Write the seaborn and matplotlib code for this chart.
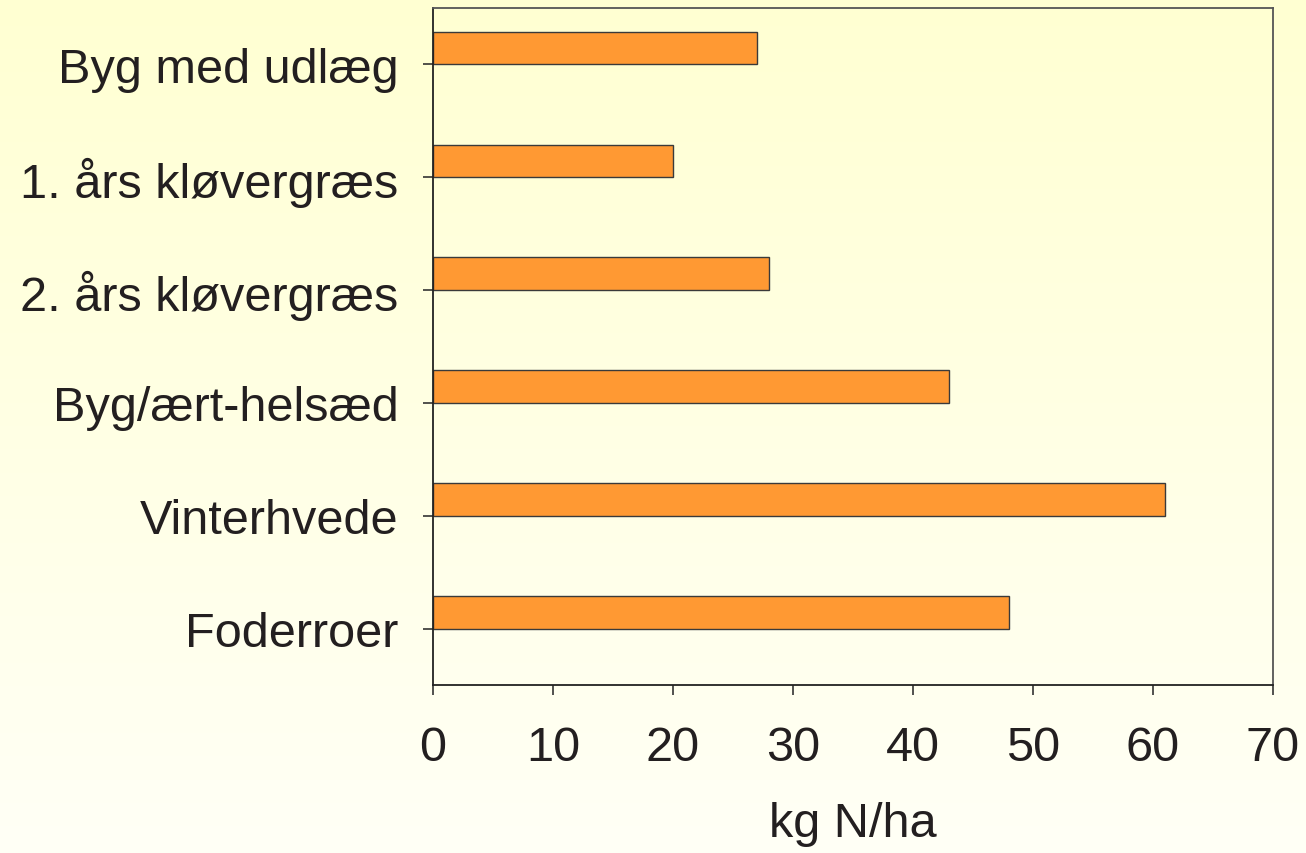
import numpy as np
import pandas as pd
import matplotlib
matplotlib.use("Agg")
import matplotlib.pyplot as plt
import seaborn as sns

# data
crops = ["Byg med udlæg", "1. års kløvergræs", "2. års kløvergræs",
         "Byg/ært-helsæd", "Vinterhvede", "Foderroer"]
n_values = [27, 20, 28, 43, 61, 48]
x_ticks = [0, 10, 20, 30, 40, 50, 60, 70]

df = pd.DataFrame({"crop": crops, "kg_n": n_values})

sns.set_style("white")
plt.rcParams["font.family"] = ["Liberation Sans", "DejaVu Sans"]
text_color = "#231f20"

fig = plt.figure(figsize=(13.06, 8.54), dpi=100)

# yellow gradient background behind everything
bg = fig.add_axes([0, 0, 1, 1], zorder=0)
grad = np.linspace(0, 1, 256).reshape(-1, 1)
bg.imshow(grad, aspect="auto", extent=[0, 1, 0, 1],
          cmap=matplotlib.colors.LinearSegmentedColormap.from_list(
              "bgyl", ["#fffff6", "#ffffd2"]), origin="lower")
bg.axis("off")

ax = fig.add_axes([433 / 1306, 1 - 686 / 854, 840 / 1306, 677 / 854], zorder=1)
ax.patch.set_alpha(0)

sns.barplot(data=df, x="kg_n", y="crop", orient="h", color="#ff9933",
            edgecolor="#3a3a3a", linewidth=1.0, width=0.29, saturation=1,
            ax=ax)

# Excel-style: bar sits just above the category tick
for p in ax.patches:
    p.set_y(p.get_y() - p.get_height() / 2)

ax.set_xlim(0, 70)
ax.set_ylim(5.5, -0.5)
ax.set_xticks(x_ticks)
ax.set_xlabel("kg N/ha", fontsize=35, color=text_color, labelpad=22)
ax.set_ylabel("")
ax.tick_params(axis="both", which="both", direction="out", length=7,
               width=1.2, color="#333333", labelsize=35, labelcolor=text_color,
               bottom=True, left=True)
ax.tick_params(axis="x", pad=22)
ax.tick_params(axis="y", pad=18)

for side in ["left", "bottom"]:
    ax.spines[side].set_color("#222222")
    ax.spines[side].set_linewidth(1.3)
for side in ["top", "right"]:
    ax.spines[side].set_visible(True)
    ax.spines[side].set_color("#555555")
    ax.spines[side].set_linewidth(1.3)

fig.savefig("out.png", dpi=100)
